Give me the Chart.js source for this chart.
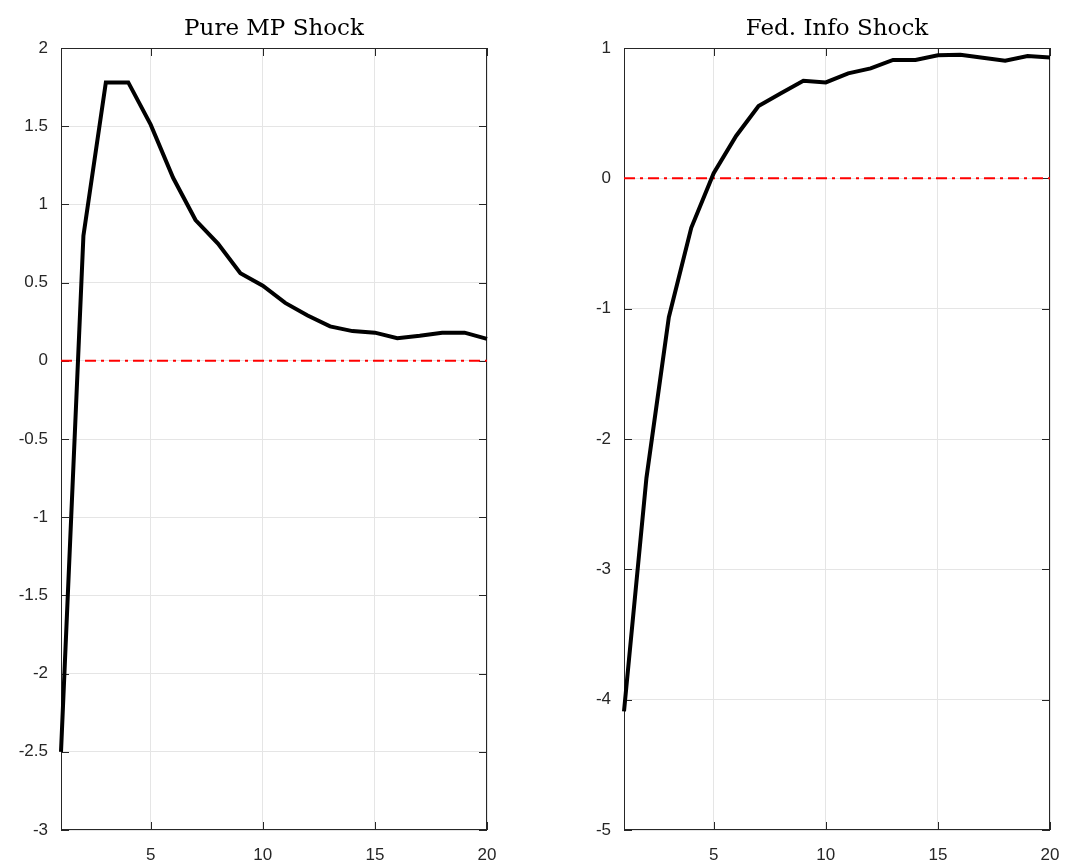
<!DOCTYPE html>
<html>
<head>
<meta charset="utf-8">
<script src="https://cdn.jsdelivr.net/npm/chart.js@4"></script>
<style>
  body { margin: 0; background: #fff; }
  canvas { position: absolute; top: 0; }
  #leftChart { left: 0; }
  #rightChart { left: 532px; }
</style>
</head>
<body>
<canvas id="leftChart" width="532" height="866"></canvas>
<canvas id="rightChart" width="533" height="866"></canvas>
<script>
// horizons on the x axis
const horizon = [1, 2, 3, 4, 5, 6, 7, 8, 9, 10, 11, 12, 13, 14, 15, 16, 17, 18, 19, 20];
const xTicks = [5, 10, 15, 20];

// responses
const pureMP = [-2.50, 0.80, 1.78, 1.78, 1.51, 1.17, 0.90, 0.75, 0.56, 0.48, 0.37, 0.29, 0.22, 0.19, 0.18, 0.145, 0.16, 0.18, 0.18, 0.14];
const fedInfo = [-4.09, -2.30, -1.065, -0.38, 0.04, 0.325, 0.555, 0.652, 0.749, 0.736, 0.805, 0.844, 0.908, 0.908, 0.944, 0.949, 0.925, 0.903, 0.938, 0.928];

const leftYTicks = [-3, -2.5, -2, -1.5, -1, -0.5, 0, 0.5, 1, 1.5, 2];
const rightYTicks = [-5, -4, -3, -2, -1, 0, 1];
const zeroLevel = 0;

const tickFont = { family: '"Liberation Sans Narrow", "Liberation Sans", Arial, sans-serif', size: 17 };

// box round the plot area + inward tick marks on all four sides
const boxPlugin = {
    id: 'box',
    beforeDatasetsDraw(chart) {
        const { ctx, chartArea: a, scales } = chart;
        const len = 8;
        ctx.save();
        ctx.strokeStyle = '#262626';
        ctx.lineWidth = 1;
        ctx.strokeRect(a.left + 0.5, a.top + 0.5, a.width - 1, a.height - 1);
        ctx.beginPath();
        scales.y.ticks.forEach(t => {
            const y = Math.round(scales.y.getPixelForValue(t.value)) + 0.5;
            ctx.moveTo(a.left, y); ctx.lineTo(a.left + len, y);
            ctx.moveTo(a.right, y); ctx.lineTo(a.right - len, y);
        });
        scales.x.ticks.forEach(t => {
            const x = Math.round(scales.x.getPixelForValue(t.value)) + 0.5;
            ctx.moveTo(x, a.bottom); ctx.lineTo(x, a.bottom - len);
            ctx.moveTo(x, a.top); ctx.lineTo(x, a.top + len);
        });
        ctx.stroke();
        ctx.restore();
    }
};

let makeChart = (id, title, values, yTicks, yAxisWidth, padRight) => {
    const pts = horizon.map((h, i) => ({ x: h, y: values[i] }));
    const zero = [{ x: horizon[0], y: zeroLevel }, { x: horizon[horizon.length - 1], y: zeroLevel }];

    return new Chart(document.getElementById(id), {
        type: 'line',
        data: {
            datasets: [{
                data: pts,
                borderColor: '#000',
                borderWidth: 4,
                pointRadius: 0,
                tension: 0,
                clip: false
            }, {
                data: zero,
                borderColor: '#ff0000',
                borderWidth: 2,
                borderDash: [11, 5, 3, 5],
                pointRadius: 0
            }]
        },
        options: {
            responsive: false,
            animation: false,
            devicePixelRatio: 1,
            layout: { padding: { top: 0, right: padRight, bottom: 0, left: 0 } },
            plugins: {
                legend: { display: false },
                tooltip: { enabled: false },
                title: {
                    display: true,
                    text: title,
                    fullSize: false,
                    color: '#000',
                    font: { family: '"DejaVu Serif", "Liberation Serif", serif', size: 23, weight: 'normal', lineHeight: 1.2 },
                    padding: { top: 15, bottom: 5.4 }
                }
            },
            scales: {
                x: {
                    type: 'linear',
                    min: horizon[0],
                    max: horizon[horizon.length - 1],
                    afterBuildTicks: s => { s.ticks = xTicks.map(v => ({ value: v })); },
                    afterFit: s => { s.height = 36; s.paddingLeft = 0; s.paddingRight = 0; },
                    grid: { color: '#e5e5e5', drawTicks: false },
                    border: { display: false },
                    ticks: { color: '#262626', font: tickFont, padding: 15, maxRotation: 0, callback: v => String(v) }
                },
                y: {
                    type: 'linear',
                    min: yTicks[0],
                    max: yTicks[yTicks.length - 1],
                    afterBuildTicks: s => { s.ticks = yTicks.map(v => ({ value: v })); },
                    afterFit: s => { s.width = yAxisWidth; s.paddingTop = 0; s.paddingBottom = 0; },
                    grid: { color: '#e5e5e5', drawTicks: false },
                    border: { display: false },
                    ticks: { color: '#262626', font: tickFont, padding: 13, callback: v => String(v) }
                }
            }
        },
        plugins: [boxPlugin]
    });
};

makeChart('leftChart', 'Pure MP Shock', pureMP, leftYTicks, 61, 45);
makeChart('rightChart', 'Fed. Info Shock', fedInfo, rightYTicks, 92, 15);
</script>
</body>
</html>
